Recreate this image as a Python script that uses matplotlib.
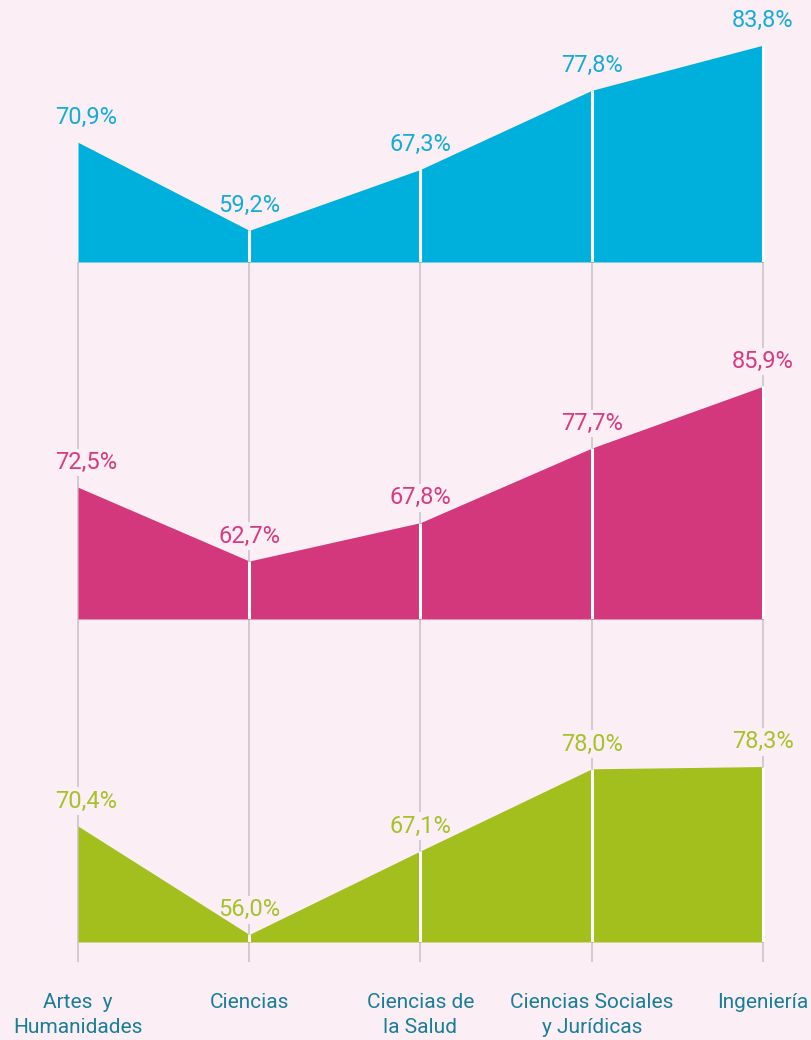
import matplotlib
matplotlib.use("Agg")
import matplotlib.pyplot as plt

plt.rcParams['font.family'] = ['Roboto', 'DejaVu Sans']

categories = ["Artes  y\nHumanidades", "Ciencias", "Ciencias de\nla Salud",
              "Ciencias Sociales\ny Jurídicas", "Ingeniería"]
serie_azul = [70.9, 59.2, 67.3, 77.8, 83.8]
serie_rosa = [72.5, 62.7, 67.8, 77.7, 85.9]
serie_verde = [70.4, 56.0, 67.1, 78.0, 78.3]

BG = '#fbeef5'
W, H = 811, 1040
fig = plt.figure(figsize=(W / 100, H / 100), dpi=100, facecolor=BG)

x = list(range(len(categories)))
unit = 171.25
xlim = (-78 / unit, 4 + 48 / unit)
px_per_pct = 7.53
base = 55.0

# background axes in pixel coordinates for grid lines and category labels
axbg = fig.add_axes([0, 0, 1, 1], facecolor=BG)
axbg.set_xlim(*xlim)
axbg.set_ylim(H, 0)
axbg.axis('off')
axbg.vlines(x, 262, 962, color='#cfc8cc', lw=1.3, zorder=1)
for xi, c in zip(x, categories):
    axbg.text(xi, 993, c, ha='center', va='top', fontsize=15,
              color='#1a7e98', linespacing=1.4)

panels = [
    (serie_azul, 262, '#00b0dc', '#14addb'),
    (serie_rosa, 619, '#d4387c', '#d63c80'),
    (serie_verde, 942, '#a2bf1e', '#a6c22a'),
]
ph = 260
for vals, baseline_px, fill, tcol in panels:
    ax = fig.add_axes([0, 1 - baseline_px / H, 1, ph / H])
    ax.patch.set_alpha(0)
    ax.set_xlim(*xlim)
    ax.set_ylim(base, base + ph / px_per_pct)
    ax.axis('off')
    ax.fill_between(x, base, vals, color=fill, lw=0, zorder=2)
    ax.vlines(x[1:], base, vals[1:], color='white', lw=2.2, zorder=3)
    for i, (xi, v) in enumerate(zip(x, vals)):
        dx = 6 if i == 0 else 0
        ax.annotate(f"{v:.1f}%".replace('.', ','), (xi, v),
                    xytext=(dx, 9.5), textcoords='offset points',
                    ha='center', va='bottom', fontsize=17, color=tcol,
                    annotation_clip=False, zorder=1,
                    bbox=dict(boxstyle='square,pad=0.1', fc=BG, ec='none'))

fig.savefig('out.png', dpi=100, facecolor=BG)
